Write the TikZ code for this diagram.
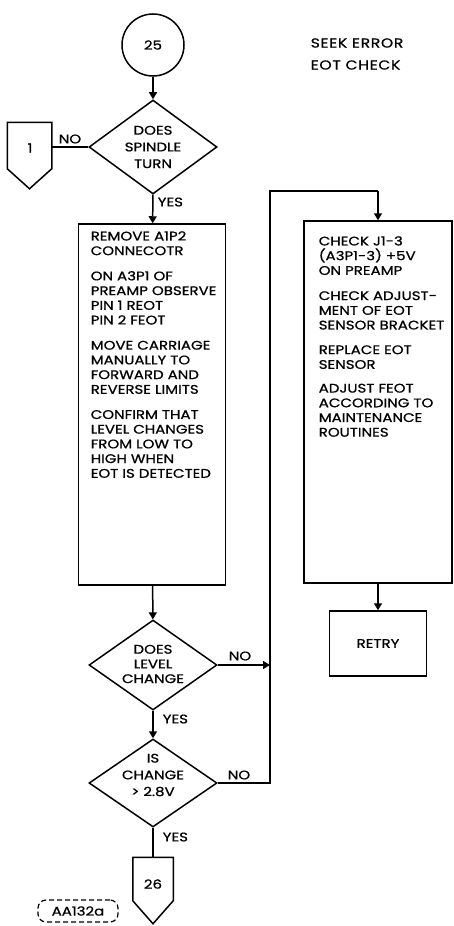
\documentclass[tikz,border=0pt]{standalone}
\usepackage{fontspec}
\setmainfont{Poppins}[FakeStretch=1.2,FakeBold=0.8]
\usetikzlibrary{shapes.geometric,arrows.meta,calc}
\begin{document}
\begin{tikzpicture}[x=1pt,y=-1pt,line width=1.5pt,
  every node/.style={font=\fontsize{12.5}{14.7}\selectfont,inner sep=0pt},
  arr/.style={-{Triangle[length=7pt,width=8pt]}},
  dia/.style={draw,diamond,minimum width=128pt,minimum height=92pt},
  boxn/.style={draw,rectangle},
  txt/.style={align=left,anchor=north west},
  lbl/.style={align=center},
  ttl/.style={anchor=west,font=\fontsize{13}{15}\selectfont\addfontfeature{LetterSpace=5}}]
\useasboundingbox (0,0) rectangle (454,926);
% title
\node[ttl] (ti1) at (310,43) {SEEK ERROR};
\node[ttl] (ti2) at (310,65) {EOT CHECK};
% start circle
\node[draw,circle,minimum size=62pt] (c25) at (153,45) {25};
% decision 1
\node[dia,minimum height=94pt] (d1) at (153,147) {};
\node[lbl] (d1t) at (153,147) {DOES\\[2pt]SPINDLE\\[2pt]TURN};
% off-page connector 1
\node[minimum width=43pt,minimum height=45pt] (p1) at (29.5,145.5) {};
\draw (p1.south west) -- (p1.north west) -- (p1.north east) -- (p1.south east) -- ($(p1.south)+(0,20)$) -- cycle;
\node (p1t) at (30,148) {1};
\node (no1) at (70,139) {NO};
\node[anchor=west] (yes1) at (157,202) {YES};
% box 1
\node[boxn,minimum width=147pt,minimum height=361pt] (b1) at (152,404.5) {};
\node[txt] (b1t) at (90,230.5) {REMOVE A1P2\\CONNECOTR\\[10.5pt]ON A3P1 OF\\PREAMP OBSERVE\\PIN 1 REOT\\PIN 2 FEOT\\[10.5pt]MOVE CARRIAGE\\MANUALLY TO\\FORWARD AND\\REVERSE LIMITS\\[10.5pt]CONFIRM THAT\\LEVEL CHANGES\\FROM LOW TO\\HIGH WHEN\\EOT IS DETECTED};
% decision 2
\node[dia,minimum height=90pt] (d2) at (153,665) {};
\node[lbl] (d2t) at (153,664) {DOES\\LEVEL\\CHANGE};
\node (no2) at (240,656) {NO};
\node[anchor=west] (yes2) at (162,719) {YES};
% decision 3
\node[dia,minimum height=88pt] (d3) at (153,783) {};
\node[lbl] (d3t) at (153,775) {IS\\[2pt]CHANGE\\[2pt]> 2.8V};
\node (no3) at (239,775) {NO};
\node[anchor=west] (yes3) at (162,837) {YES};
% off-page connector 26
\node[minimum width=39pt,minimum height=42pt] (p26) at (153,879) {};
\draw (p26.south west) -- (p26.north west) -- (p26.north east) -- (p26.south east) -- ($(p26.south)+(0,23)$) -- cycle;
\node (p26t) at (153,884) {26};
% box 2
\node[boxn,minimum width=148pt,minimum height=362pt] (b2) at (378,402) {};
\node[txt] (b2t) at (318,235.5) {CHECK J1-3\\(A3P1-3) +5V\\ON PREAMP\\[10.5pt]CHECK ADJUST-\\MENT OF EOT\\SENSOR BRACKET\\[10pt]REPLACE EOT\\SENSOR\\[9pt]ADJUST FEOT\\ACCORDING TO\\MAINTENANCE\\ROUTINES};
% retry
\node[boxn,minimum width=97pt,minimum height=65pt] (rt) at (378,643.5) {RETRY};
% document id
\node[draw,dashed,dash pattern=on 5pt off 3pt,rounded corners=8pt,minimum width=80pt,minimum height=22pt,line width=1.2pt] (id) at (78,911) {AA132a};
% loop coordinates
\coordinate (j0) at (270,191);
\coordinate (j1) at (270,665);
\coordinate (j2) at (270,783);
\coordinate (j3) at (378,191);
% connectors
\draw[arr] (c25) -- (d1);
\draw (d1.west) -- (p1.east |- d1.west);
\draw[arr] (d1) -- (b1);
\draw[arr] (b1) -- (d2);
\draw[arr] (d2.east) -- (j1);
\draw[arr] (d2) -- (d3);
\draw (d3) -- (p26);
\draw (d3.east) -- (j2) -- (j0) -- (j3);
\draw[arr] (j3) -- (b2);
\draw[arr] (b2) -- (rt);
\end{tikzpicture}
\end{document}
